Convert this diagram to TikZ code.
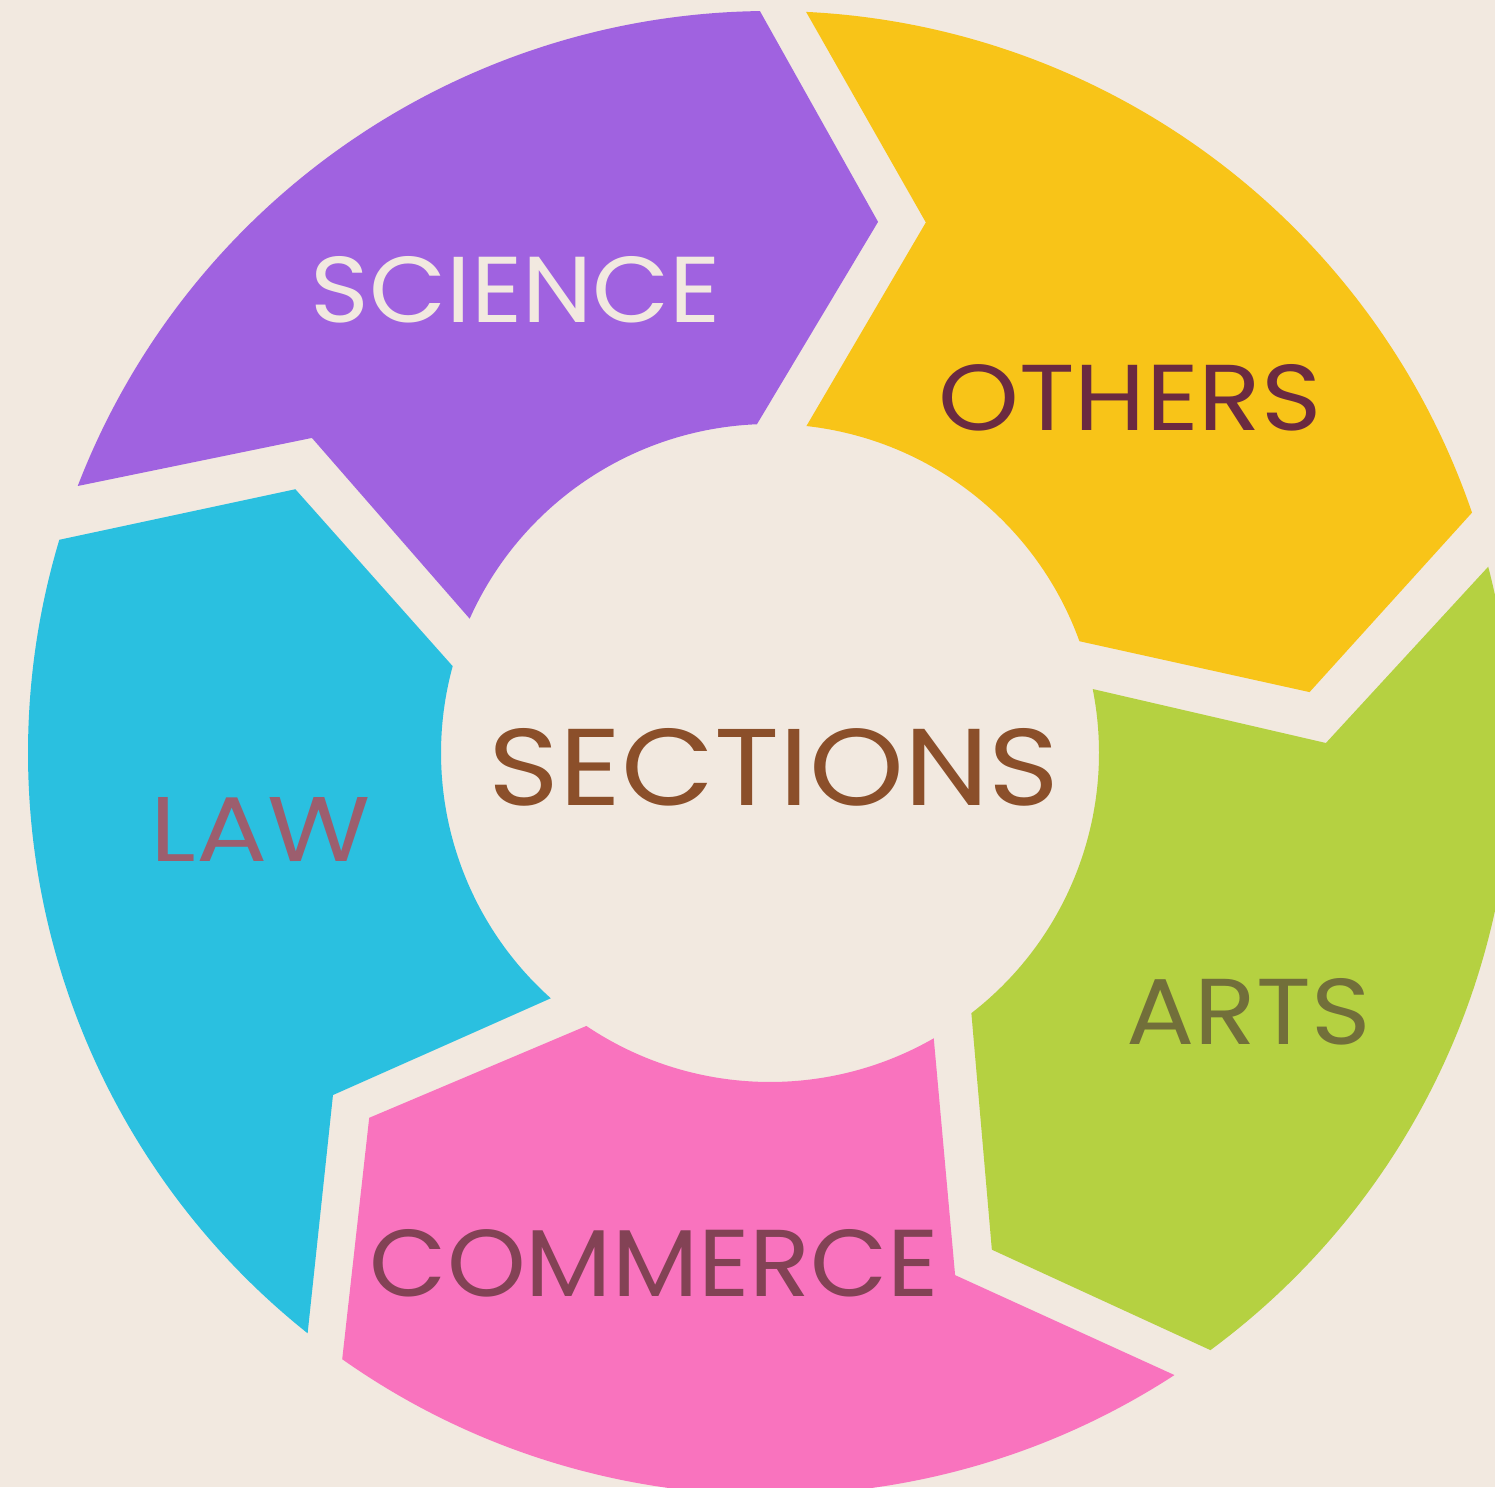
\documentclass[tikz,border=0pt]{standalone}
\usepackage{fontspec}
\setmainfont{Poppins}
\definecolor{bgc}{HTML}{F2E9E0}
\definecolor{sciencec}{HTML}{A062E0}
\definecolor{othersc}{HTML}{F8C418}
\definecolor{artsc}{HTML}{B5D141}
\definecolor{commercec}{HTML}{F973BE}
\definecolor{lawc}{HTML}{2AC0E0}
\definecolor{sciencet}{HTML}{F2E9E0}
\definecolor{otherst}{HTML}{6B2A40}
\definecolor{artst}{HTML}{726F3A}
\definecolor{commercet}{HTML}{834255}
\definecolor{lawt}{HTML}{9C5E6E}
\definecolor{sectionst}{HTML}{8B4F2A}
\tikzset{
  seg/.style={draw=none},
  lbl/.style={anchor=base, inner sep=0pt, outer sep=0pt}
}
\begin{document}
\begin{tikzpicture}[x=1pt,y=1pt]
\useasboundingbox (0,0) rectangle (1495,1487);
\clip (0,0) rectangle (1495,1487);
\fill[bgc] (0,0) rectangle (1495,1487);
\begin{scope}[shift={(770,734)}]
% SCIENCE
\fill[sciencec, seg] (90.78:742) arc[start angle=90.78, end angle=158.91, radius=742]
  -- (145.48:556) -- (155.91:329) arc[start angle=155.91, end angle=92.28, radius=329]
  -- (78.50:542) -- cycle;
% OTHERS
\fill[othersc, seg] (18.90:742) arc[start angle=18.90, end angle=87.21, radius=742]
  -- (73.63:553) -- (83.64:329) arc[start angle=83.64, end angle=19.86, radius=329]
  -- (6.44:543) -- cycle;
% ARTS
\fill[artsc, seg] (-53.59:742) arc[start angle=-53.59, end angle=14.54, radius=742]
  -- (1.03:556) -- (11.21:329) arc[start angle=11.21, end angle=-52.26, radius=329]
  -- (-65.93:544) -- cycle;
% COMMERCE
\fill[commercec, seg] (-125.21:742) arc[start angle=-125.21, end angle=-56.97, radius=742]
  -- (-70.48:554) -- (-60.15:329) arc[start angle=-60.15, end angle=-123.93, radius=329]
  -- (-137.69:542) -- cycle;
% LAW
\fill[lawc, seg] (163.30:742) arc[start angle=163.30, end angle=231.45, radius=742]
  -- (218.05:555) -- (228.21:329) arc[start angle=228.21, end angle=164.70, radius=329]
  -- (150.94:543) -- cycle;
\end{scope}
\node[lbl, text=sciencet] (science) at (516,1164) {\resizebox{410pt}{66pt}{SCIENCE}};
\node[lbl, text=otherst] (others) at (1130,1056) {\resizebox{383pt}{66pt}{OTHERS}};
\node[lbl, text=sectionst] (sections) at (774,681) {\resizebox{571pt}{77pt}{SECTIONS}};
\node[lbl, text=lawt] (law) at (261,625) {\resizebox{220pt}{64pt}{LAW}};
\node[lbl, text=artst] (arts) at (1248.5,442) {\resizebox{244pt}{66pt}{ARTS}};
\node[lbl, text=commercet] (commerce) at (654.5,191) {\resizebox{569pt}{67pt}{COMMERCE}};
\end{tikzpicture}
\end{document}
